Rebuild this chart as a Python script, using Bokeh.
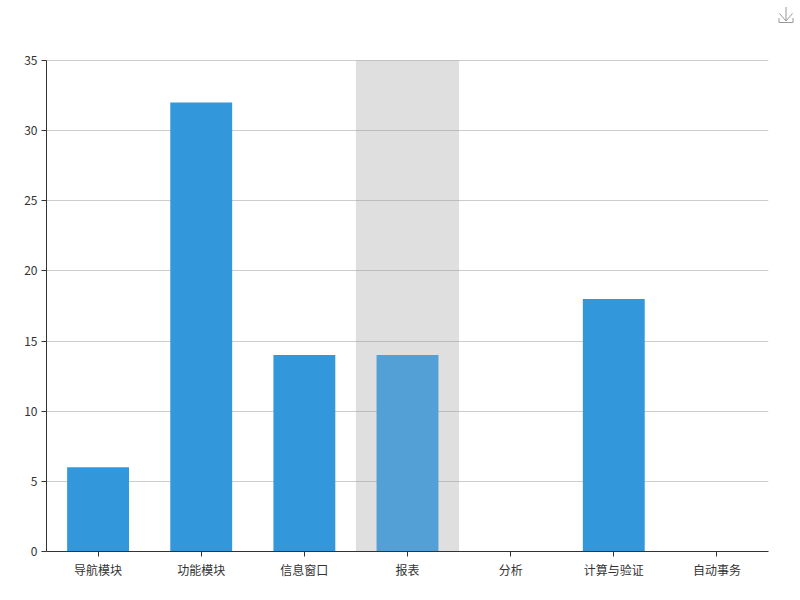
from bokeh.embed import file_html
from bokeh.resources import INLINE
from bokeh.plotting import figure
from bokeh.layouts import column
from bokeh.models import ColumnDataSource, Range1d, FactorRange, FixedTicker, Div

categories = ["导航模块", "功能模块", "信息窗口", "报表", "分析", "计算与验证", "自动事务"]
values = [6, 32, 14, 14, 0, 18, 0]
bar_colors = ["#3398DB", "#3398DB", "#3398DB", "#53A0D6", "#3398DB", "#3398DB", "#3398DB"]
highlighted = ["报表"]
y_ticks = [0, 5, 10, 15, 20, 25, 30, 35]
y_max = 35
y_view_max = 35.0713   # one pixel of headroom so the top gridline is not skipped

FONT = "Noto Sans CJK SC"

# strip above the chart, holding the save icon
ICON_H = 40
icon = Div(width=800, height=ICON_H, margin=0, text=(
    f'<svg width="800" height="{ICON_H}" style="display:block">'
    '<path d="M786 7V21M779.5 13.5L786 21L792.5 13.5M779 18V22.5H793V18" '
    'fill="none" stroke="#999999" stroke-width="1"/></svg>'))

p = figure(width=800, height=600 - ICON_H, output_backend="svg", toolbar_location=None, tools="",
           x_range=FactorRange(factors=categories, factor_padding=0, range_padding=0),
           y_range=Range1d(0, y_view_max),
           min_border_left=46, min_border_right=32, min_border_top=59 - ICON_H, min_border_bottom=49)
p.outline_line_color = None
p.background_fill_color = "white"

band = ColumnDataSource(dict(cat=highlighted, top=[y_max]))
p.vbar(x="cat", top="top", bottom=0, width=1.0, source=band, fill_color="#969696", fill_alpha=0.3,
       line_color=None)

src = ColumnDataSource(dict(cat=categories, val=values, color=bar_colors))
p.vbar(x="cat", top="val", width=0.6, bottom=0, source=src, fill_color="color", line_color=None)

p.xgrid.grid_line_color = None
p.ygrid.grid_line_color = "#cccccc"
p.ygrid.grid_line_width = 1
p.ygrid.ticker = FixedTicker(ticks=y_ticks)

p.yaxis.ticker = FixedTicker(ticks=y_ticks)
p.yaxis.bounds = (0, y_max)
p.yaxis.minor_tick_line_color = None
p.xaxis.major_label_standoff = 4
p.yaxis.major_label_standoff = 4
for ax in (p.xaxis[0], p.yaxis[0]):
    ax.axis_line_color = "#333333"
    ax.major_tick_line_color = "#333333"
    ax.major_tick_out = 5
    ax.major_tick_in = 0
    ax.major_label_text_color = "#333333"
    ax.major_label_text_font = FONT
    ax.major_label_text_font_size = "12px"
p.xaxis.major_label_orientation = "horizontal"

layout = column(icon, p, spacing=0)
open("out.html", "w").write(file_html(layout, INLINE))
